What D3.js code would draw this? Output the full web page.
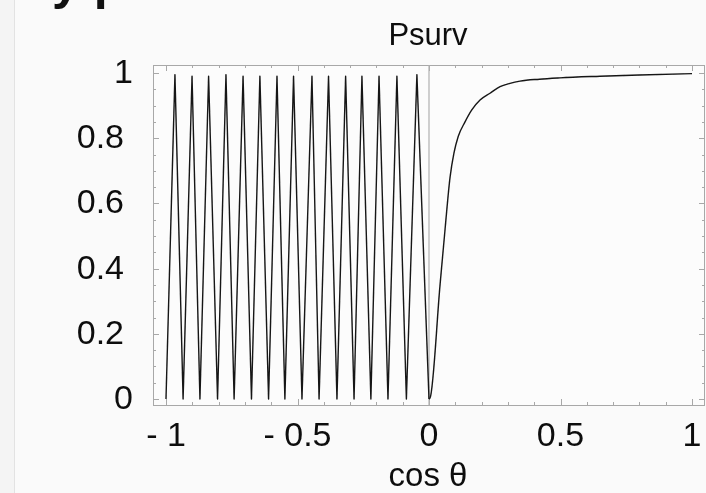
<!DOCTYPE html>
<html>
<head>
<meta charset="utf-8">
<script src="https://cdn.jsdelivr.net/npm/d3@7/dist/d3.min.js"></script>
<style>
  html, body { margin: 0; padding: 0; background: #fafafa; }
  svg { display: block; }
  text { font-family: "Liberation Sans", Arial, Helvetica, sans-serif; fill: #111; }
</style>
</head>
<body>
<svg id="chart" width="706" height="493"></svg>
<script>
// Survival probability versus zenith angle (cos θ).
// Up-going branch (cos θ < 0): successive extrema of the oscillation.
const upCos = [-1.000, -0.966, -0.935, -0.901, -0.871, -0.838, -0.804, -0.772,
               -0.741, -0.707, -0.675, -0.643, -0.610, -0.578, -0.548, -0.515,
               -0.483, -0.445, -0.418, -0.382, -0.350, -0.317, -0.285, -0.255,
               -0.221, -0.190, -0.156, -0.122, -0.086, -0.046, 0.000];
const upPsurv = [0.00, 0.995, 0.00, 0.99, 0.00, 0.99, 0.00, 0.995,
                 0.00, 0.99, 0.00, 0.99, 0.00, 0.99, 0.00, 0.99,
                 0.00, 0.99, 0.00, 0.99, 0.00, 0.99, 0.00, 0.99,
                 0.00, 0.99, 0.00, 0.99, 0.00, 0.995, 0.00];

// Down-going branch (cos θ > 0): smooth rise towards 1.
const downCos = [0.000, 0.004, 0.042, 0.061, 0.080, 0.095, 0.111, 0.137, 0.162,
                 0.194, 0.232, 0.270, 0.308, 0.346, 0.420, 0.498, 0.650, 0.800, 1.000];
const downPsurv = [0.000, 0.003, 0.350, 0.520, 0.680, 0.755, 0.805, 0.850, 0.886,
                   0.917, 0.938, 0.958, 0.968, 0.975, 0.981, 0.985, 0.990, 0.994, 0.998];

const yTicks = [0, 0.2, 0.4, 0.6, 0.8, 1];
const yTickLabels = ["0", "0.2", "0.4", "0.6", "0.8", "1"];
const xTicks = [-1, -0.5, 0, 0.5, 1];
const xTickLabels = ["- 1", "- 0.5", "0", "0.5", "1"];
const xMinor = d3.range(-10, 11).map(i => i / 10);
const yMinor = d3.range(0, 21).map(i => i / 20);

const svg = d3.select("#chart");

// page backdrop
svg.append("rect").attr("x", 0).attr("y", 0).attr("width", 706).attr("height", 493).attr("fill", "#fafafa");
svg.append("rect").attr("x", 0).attr("y", 0).attr("width", 14).attr("height", 493).attr("fill", "#f4f4f4");
svg.append("line").attr("x1", 14.5).attr("x2", 14.5).attr("y1", 0).attr("y2", 493)
  .attr("stroke", "#e2e2e2").attr("stroke-width", 1);

// heading text running off the top edge
svg.append("text").attr("x", 52).attr("y", -1)
  .attr("font-size", 50).attr("font-weight", "bold").text("y p");

const frame = { left: 153, right: 705, top: 65, bottom: 405 };
const x = d3.scaleLinear().domain([-1, 1]).range([166, 692]);
const y = d3.scaleLinear().domain([0, 1]).range([399, 73]);

const defs = svg.append("defs");
defs.append("filter").attr("id", "soft")
  .append("feGaussianBlur").attr("stdDeviation", 0.45);

// frame
svg.append("rect")
  .attr("x", frame.left + 0.5).attr("y", frame.top + 0.5)
  .attr("width", frame.right - frame.left - 1).attr("height", frame.bottom - frame.top)
  .attr("fill", "#fcfcfc").attr("stroke", "#a8a8a8").attr("stroke-width", 1);

// inward ticks on all four sides
const isMajorX = v => Math.abs(v * 2 - Math.round(v * 2)) < 1e-9;
const isMajorY = v => Math.abs(v * 5 - Math.round(v * 5)) < 1e-9;
const tickG = svg.append("g").attr("stroke", "#a8a8a8").attr("stroke-width", 1);
xMinor.forEach(v => {
  const len = isMajorX(v) ? 6 : 3;
  const px = Math.round(x(v)) + 0.5;
  tickG.append("line").attr("x1", px).attr("x2", px).attr("y1", frame.bottom).attr("y2", frame.bottom - len);
  tickG.append("line").attr("x1", px).attr("x2", px).attr("y1", frame.top).attr("y2", frame.top + len);
});
yMinor.forEach(v => {
  const len = isMajorY(v) ? 6 : 3;
  const py = Math.round(y(v)) + 0.5;
  tickG.append("line").attr("x1", frame.left).attr("x2", frame.left + len).attr("y1", py).attr("y2", py);
  tickG.append("line").attr("x1", frame.right).attr("x2", frame.right - len).attr("y1", py).attr("y2", py);
});

// vertical reference line at cos θ = 0
svg.append("line")
  .attr("x1", x(0)).attr("x2", x(0)).attr("y1", frame.top).attr("y2", frame.bottom)
  .attr("stroke", "#b0b0b0").attr("stroke-width", 1.2);

// curves
const upData = upCos.map((c, i) => [c, upPsurv[i]]);
const downData = downCos.map((c, i) => [c, downPsurv[i]]);
const plot = svg.append("g").attr("filter", "url(#soft)");
plot.append("path").datum(upData)
  .attr("d", d3.line().x(d => x(d[0])).y(d => y(d[1])).curve(d3.curveLinear))
  .attr("fill", "none").attr("stroke", "#151515").attr("stroke-width", 1.4)
  .attr("stroke-linejoin", "round");
plot.append("path").datum(downData)
  .attr("d", d3.line().x(d => x(d[0])).y(d => y(d[1])).curve(d3.curveMonotoneX))
  .attr("fill", "none").attr("stroke", "#151515").attr("stroke-width", 1.4);

// y tick labels
const labelG = svg.append("g").attr("filter", "url(#soft)");
yTicks.forEach((v, i) => {
  const lbl = yTickLabels[i];
  const isInt = lbl.indexOf(".") < 0;
  labelG.append("text")
    .attr("x", isInt ? 133 : 124)
    .attr("y", y(v) + 10)
    .attr("text-anchor", "end")
    .attr("font-size", 34)
    .text(lbl);
});

// x tick labels
xTicks.forEach((v, i) => {
  labelG.append("text")
    .attr("x", x(v))
    .attr("y", 446)
    .attr("text-anchor", "middle")
    .attr("font-size", 34)
    .text(xTickLabels[i]);
});

// titles
labelG.append("text").attr("x", 428).attr("y", 45)
  .attr("text-anchor", "middle").attr("font-size", 31).text("Psurv");
labelG.append("text").attr("x", 428).attr("y", 486)
  .attr("text-anchor", "middle").attr("font-size", 33).text("cos θ");
</script>
</body>
</html>
